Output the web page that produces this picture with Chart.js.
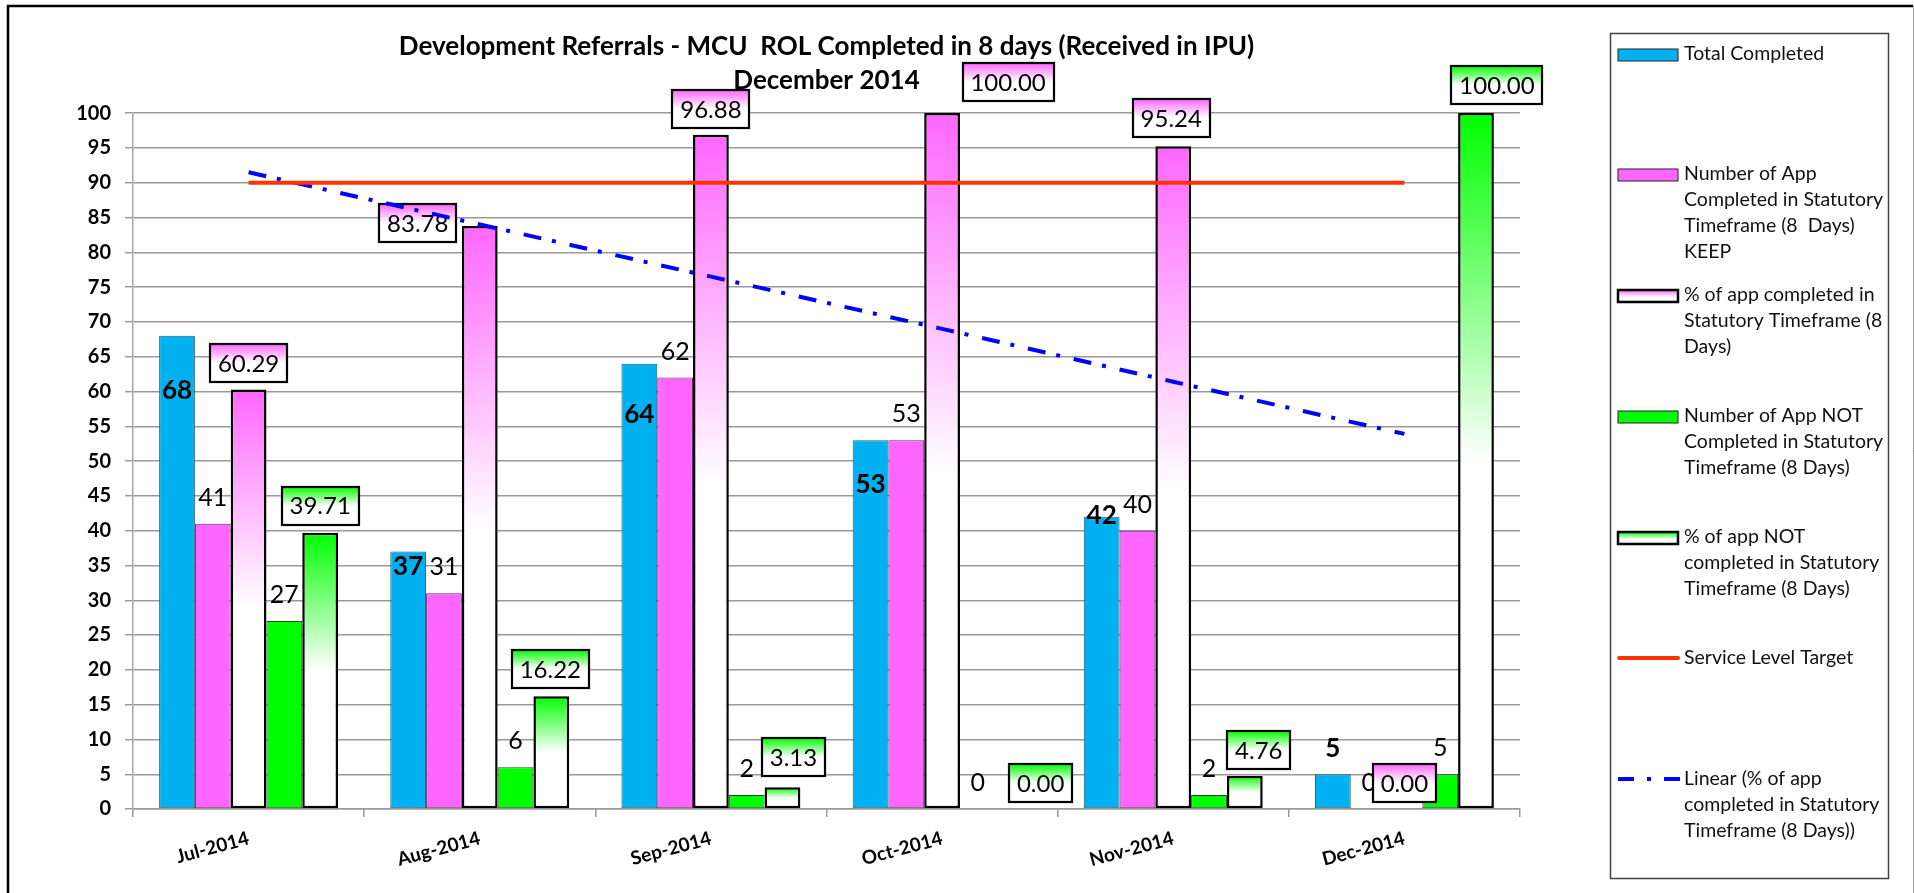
<!DOCTYPE html>
<html>
<head>
<meta charset="utf-8">
<script src="https://cdn.jsdelivr.net/npm/chart.js@4.4.1/dist/chart.umd.min.js"></script>
<style>
  html, body { margin: 0; padding: 0; background: #fff; }
  #wrap { position: relative; width: 1914px; height: 893px; }
</style>
</head>
<body>
<div id="wrap"><canvas id="chart"></canvas></div>
<script>
// ---- data ----
const months = ['Jul-2014', 'Aug-2014', 'Sep-2014', 'Oct-2014', 'Nov-2014', 'Dec-2014'];
const totalCompleted = [68, 37, 64, 53, 42, 5];
const completedInTime = [41, 31, 62, 53, 40, 0];
const pctCompleted = [60.29, 83.78, 96.88, 100.00, 95.24, 0.00];
const notCompleted = [27, 6, 2, 0, 2, 5];
const pctNotCompleted = [39.71, 16.22, 3.13, 0.00, 4.76, 100.00];
const serviceTarget = [90, 90, 90, 90, 90, 90];
const trendPctCompleted = [91.5, 84.0, 76.5, 69.0, 61.4, 53.9];

const titleLines = ['Development Referrals - MCU  ROL Completed in 8 days (Received in IPU)', 'December 2014'];
const seriesNames = [
  ['Total Completed'],
  ['Number of App', 'Completed in Statutory', 'Timeframe (8  Days)', 'KEEP'],
  ['% of app completed in', 'Statutory Timeframe (8', 'Days)'],
  ['Number of App NOT', 'Completed in Statutory', 'Timeframe (8 Days)'],
  ['% of app NOT', 'completed in Statutory', 'Timeframe (8 Days)'],
  ['Service Level Target'],
  ['Linear (% of app', 'completed in Statutory', 'Timeframe (8 Days))']
];

// ---- label placement (pixel offsets from the top centre of each bar) ----
const totalLabelDy = [55, 15, 51, 44, -1, -26];
const countLabelDy = -26;
const pctBoxShift = [[0, -26], [-62, -3], [0, -26], [66, -31], [-2, -28], [0, -26]];
const pctNotBoxShift = [[0, -27], [-1, -27], [11, -30], [27, -26], [14, -26], [21, -28]];

// ---- styles ----
const FONT = 'Lato';
const BLUE = '#00B0F0';
const PINK = '#FF66FF';
const GREEN = '#00FF00';
const TARGET_RED = '#FF3300';
const TREND_BLUE = '#0000FF';
const TREND_DASH = [18, 11, 4, 14];

function fadeToWhite(color, stop) {
  return (c) => {
    const chart = c.chart;
    if (!chart.chartArea || c.type !== 'data') return color;
    const y = chart.scales.y;
    const top = y.getPixelForValue(c.raw);
    const base = y.getPixelForValue(0);
    if (base - top < 1) return '#ffffff';
    const g = chart.ctx.createLinearGradient(0, top, 0, base);
    g.addColorStop(0, color);
    g.addColorStop(stop, '#ffffff');
    g.addColorStop(1, '#ffffff');
    return g;
  };
}
const hideZero = (w) => (c) => (c.raw === 0 ? 0 : w);

// ---- value labels, drawn after the bars and before the lines ----
const valueLabels = {
  id: 'valueLabels',
  afterDatasetDraw(chart, args) {
    if (args.index !== 0) return;
    const ctx = chart.ctx;
    ctx.save();
    ctx.textAlign = 'center';
    ctx.textBaseline = 'middle';
    ctx.fillStyle = '#000';

    const plain = (dsIndex, values, font, dyFor) => {
      const meta = chart.getDatasetMeta(dsIndex);
      ctx.font = font;
      values.forEach((v, i) => {
        const el = meta.data[i];
        ctx.fillText(String(v), el.x, el.y + dyFor(i));
      });
    };
    plain(0, totalCompleted, `bold 26px ${FONT}`, (i) => totalLabelDy[i]);
    plain(1, completedInTime, `25px ${FONT}`, () => countLabelDy);
    plain(3, notCompleted, `25px ${FONT}`, () => countLabelDy);

    const boxed = (dsIndex, values, color, shifts) => {
      const meta = chart.getDatasetMeta(dsIndex);
      ctx.font = `24px ${FONT}`;
      values.forEach((v, i) => {
        const el = meta.data[i];
        const txt = v.toFixed(2);
        const w = Math.round(ctx.measureText(txt).width + 16);
        const h = 38;
        const cx = el.x + shifts[i][0];
        const cy = el.y + shifts[i][1];
        const x0 = Math.round(cx - w / 2), y0 = Math.round(cy - h / 2);
        const g = ctx.createLinearGradient(0, y0, 0, y0 + h);
        g.addColorStop(0, color);
        g.addColorStop(0.5, '#ffffff');
        g.addColorStop(1, '#ffffff');
        ctx.fillStyle = g;
        ctx.fillRect(x0, y0, w, h);
        ctx.lineWidth = 2.2;
        ctx.strokeStyle = '#000';
        ctx.strokeRect(x0, y0, w, h);
        ctx.fillStyle = '#000';
        ctx.fillText(txt, cx, cy + 1);
      });
    };
    boxed(2, pctCompleted, PINK, pctBoxShift);
    boxed(4, pctNotCompleted, GREEN, pctNotBoxShift);
    ctx.restore();
  }
};

// ---- frame and legend panel ----
const framePanel = {
  id: 'framePanel',
  afterDraw(chart) {
    const ctx = chart.ctx;
    ctx.save();
    // outer frame
    ctx.strokeStyle = '#000';
    ctx.lineWidth = 2.5;
    ctx.beginPath();
    ctx.moveTo(8, 893); ctx.lineTo(8, 6); ctx.lineTo(1913, 6);
    ctx.stroke();
    ctx.strokeStyle = '#9a9a9a';
    ctx.lineWidth = 1;
    ctx.beginPath();
    ctx.moveTo(1913.5, 6); ctx.lineTo(1913.5, 893);
    ctx.stroke();

    // legend box
    ctx.strokeStyle = '#404040';
    ctx.lineWidth = 1.5;
    ctx.strokeRect(1610.5, 33.5, 278, 845);

    const sx = 1618, sw = 60, tx = 1684, lh = 26;
    const firstLine = [54, 174, 295, 416, 537, 658, 779];
    ctx.font = `19.5px ${FONT}`;
    ctx.textAlign = 'left';
    ctx.textBaseline = 'middle';

    const swatchBox = (cy, fill, border, bw) => {
      const y0 = Math.round(cy - 6);
      ctx.fillStyle = fill;
      ctx.fillRect(sx, y0, sw, 12);
      ctx.strokeStyle = border;
      ctx.lineWidth = bw;
      ctx.strokeRect(sx, y0, sw, 12);
    };
    const swatchFade = (cy, color) => {
      const y0 = Math.round(cy - 6);
      const g = ctx.createLinearGradient(0, y0, 0, y0 + 12);
      g.addColorStop(0, color);
      g.addColorStop(0.6, '#ffffff');
      g.addColorStop(1, '#ffffff');
      swatchBox(cy, g, '#000', 2.5);
    };

    swatchBox(firstLine[0] + 1, BLUE, '#222', 1);
    swatchBox(firstLine[1] + 1, PINK, '#222', 1);
    swatchFade(firstLine[2] + 1, PINK);
    swatchBox(firstLine[3] + 1, GREEN, '#222', 1);
    swatchFade(firstLine[4] + 1, GREEN);

    ctx.lineWidth = 4;
    ctx.strokeStyle = TARGET_RED;
    ctx.lineCap = 'round';
    ctx.beginPath();
    ctx.moveTo(sx + 1, firstLine[5]); ctx.lineTo(sx + sw, firstLine[5]);
    ctx.stroke();

    ctx.strokeStyle = TREND_BLUE;
    ctx.lineCap = 'butt';
    ctx.setLineDash([16, 13, 4, 13]);
    ctx.beginPath();
    ctx.moveTo(sx, firstLine[6]); ctx.lineTo(sx + 62, firstLine[6]);
    ctx.stroke();
    ctx.setLineDash([]);

    ctx.fillStyle = '#111';
    seriesNames.forEach((lines, k) => {
      lines.forEach((t, j) => ctx.fillText(t, tx, firstLine[k] + j * lh));
    });
    ctx.restore();
  }
};

const barCommon = { categoryPercentage: 0.774, barPercentage: 1.0, order: 1, borderSkipped: false };

new Chart(document.getElementById('chart'), {
  type: 'bar',
  data: {
    labels: months,
    datasets: [
      { ...barCommon, label: seriesNames[0].join(' '), data: totalCompleted,
        backgroundColor: BLUE, borderColor: '#1f5f78', borderWidth: hideZero(1) },
      { ...barCommon, label: seriesNames[1].join(' '), data: completedInTime,
        backgroundColor: PINK, borderColor: '#6a2a6a', borderWidth: hideZero(1) },
      { ...barCommon, label: seriesNames[2].join(' '), data: pctCompleted,
        backgroundColor: fadeToWhite(PINK, 0.52), borderColor: '#000', borderWidth: hideZero(2.5) },
      { ...barCommon, label: seriesNames[3].join(' '), data: notCompleted,
        backgroundColor: GREEN, borderColor: '#1a4a1a', borderWidth: hideZero(1) },
      { ...barCommon, label: seriesNames[4].join(' '), data: pctNotCompleted,
        backgroundColor: fadeToWhite(GREEN, 0.5), borderColor: '#000', borderWidth: hideZero(2.5) },
      { type: 'line', order: 0, label: seriesNames[5].join(' '), data: serviceTarget,
        borderColor: TARGET_RED, borderWidth: 4, pointRadius: 0, fill: false },
      { type: 'line', order: 0, label: seriesNames[6].join(' '), data: trendPctCompleted,
        borderColor: TREND_BLUE, borderWidth: 4, borderDash: TREND_DASH, pointRadius: 0, fill: false }
    ]
  },
  options: {
    responsive: true,
    maintainAspectRatio: false,
    animation: false,
    layout: { padding: { left: 73, right: 394, top: 0, bottom: 24 } },
    plugins: {
      legend: { display: false },
      tooltip: { enabled: false },
      title: {
        display: true,
        fullSize: false,
        text: titleLines,
        color: '#000',
        font: { family: FONT, size: 26, weight: 'bold', lineHeight: 1.31 },
        padding: { top: 30, bottom: 15 }
      }
    },
    scales: {
      x: {
        afterFit: (s) => { s.height = 60; },
        grid: { drawOnChartArea: false, drawTicks: true, tickLength: 8, color: '#9a9a9a', lineWidth: 1.5, offset: true },
        border: { display: true, color: '#9a9a9a', width: 1.5 },
        ticks: { color: '#000', font: { family: FONT, size: 19, weight: 'bold' }, minRotation: 15, maxRotation: 15, padding: 10 }
      },
      y: {
        min: 0, max: 100,
        afterFit: (s) => { s.width = 60; },
        grid: { color: '#999999', lineWidth: 1.4, tickLength: 8 },
        border: { display: true, color: '#a6a6a6', width: 1.5 },
        ticks: { stepSize: 5, color: '#000', font: { family: FONT, size: 20, weight: 'bold' }, padding: 14 }
      }
    }
  },
  plugins: [valueLabels, framePanel]
});
</script>
</body>
</html>
